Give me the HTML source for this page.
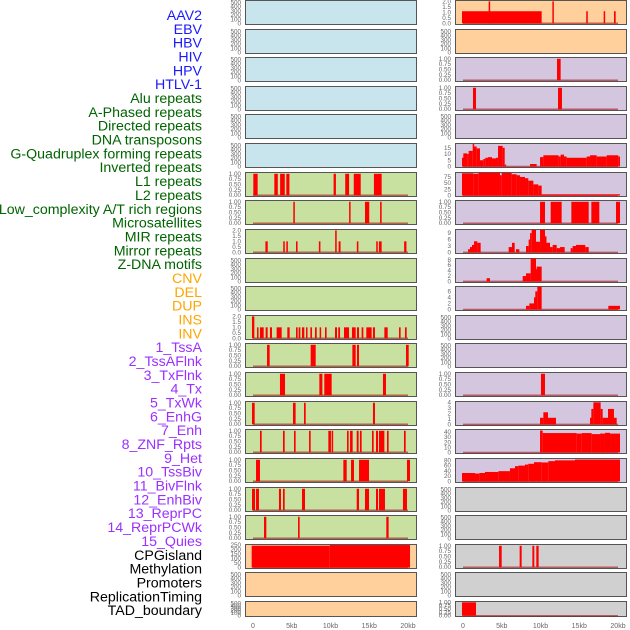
<!DOCTYPE html>
<html><head><meta charset="utf-8"><style>
html,body{margin:0;padding:0;background:#fff;width:630px;height:630px;overflow:hidden}
svg text{font-family:"Liberation Sans",sans-serif}
</style></head><body>
<svg id="chart" width="630" height="630" viewBox="0 0 630 630" xmlns="http://www.w3.org/2000/svg"></svg>
<script>
// ---- track names ----
const labelNames = ["AAV2","EBV","HBV","HIV","HPV","HTLV-1","Alu repeats","A-Phased repeats","Directed repeats","DNA transposons","G-Quadruplex forming repeats","Inverted repeats","L1 repeats","L2 repeats","Low_complexity A/T rich regions","Microsatellites","MIR repeats","Mirror repeats","Z-DNA motifs","CNV","DEL","DUP","INS","INV","1_TssA","2_TssAFlnk","3_TxFlnk","4_Tx","5_TxWk","6_EnhG","7_Enh","8_ZNF_Rpts","9_Het","10_TssBiv","11_BivFlnk","12_EnhBiv","13_ReprPC","14_ReprPCWk","15_Quies","CPGisland","Methylation","Promoters","ReplicationTiming","TAD_boundary"];
const labelGroups = ["v","v","v","v","v","v","r","r","r","r","r","r","r","r","r","r","r","r","r","s","s","s","s","s","c","c","c","c","c","c","c","c","c","c","c","c","c","c","c","o","o","o","o","o"];
const xTickLabels = ["0","5kb","10kb","15kb","20kb"];
const xTickValues = [0,5,10,15,20];

// ---- segments [startKb, endKb, value] ----
const segAlu = [[0.04,0.6,1],[2.75,3.2,1],[3.5,4.1,1],[4.3,4.7,1],[10.4,10.7,1],[11.9,12.4,1],[13.0,13.9,1],[15.6,16.6,1]];
const segAPhased = [[5.2,5.4,1],[12.4,12.55,1],[14.45,15.0,1],[16.4,16.6,1]];
const segDirected = [[1.6,1.9,1],[3.9,4.1,1],[4.3,4.5,1],[5.55,5.75,1],[8.5,8.7,1],[10.6,10.8,2],[11.05,11.3,1],[13.4,13.6,1],[15.9,16.1,1],[16.25,16.6,1],[19.5,19.8,1]];
const segInverted = [[-0.13,0.17,2],[0.52,0.69,1],[0.9,1.38,1],[1.63,1.89,1],[2.19,2.45,1],[3.05,3.7,1],[4.43,4.73,1],[5.55,5.76,1],[5.89,6.11,1],[6.32,6.62,1],[6.84,7.01,1],[7.4,7.61,1],[8.0,8.22,1],[8.6,8.77,1],[9.29,9.5,1],[10.58,10.84,1],[11.0,11.23,1],[11.74,12.39,1],[12.77,13.25,1],[13.42,13.68,1],[14.02,14.24,1],[14.62,15.31,1],[15.48,15.74,1],[16.95,17.38,1],[18.84,19.05,1],[19.61,19.83,1]];
const segL1 = [[1.81,2.15,1],[7.44,8.09,1],[12.82,13.25,1],[13.42,13.68,1],[19.74,20.09,1]];
const segL2 = [[3.48,4.13,1],[8.56,8.95,1],[9.2,10.15,1],[16.77,17.16,1]];
const segLowComplexity = [[-0.13,0.22,1],[5.16,5.5,1],[6.58,6.8,1],[15.48,15.74,1]];
const segMicrosat = [[0.9,1.12,1],[3.87,4.09,1],[5.29,5.5,1],[7.23,7.44,1],[9.72,10.06,1],[10.15,10.32,1],[12.13,12.34,1],[12.52,12.86,1],[13.38,13.63,1],[13.8,14.02,1],[15.35,15.57,1],[15.87,16.13,1],[16.26,16.95,1],[17.29,17.5,1],[19.48,19.7,1]];
const segMIR = [[0.39,0.9,1],[11.66,12.09,1],[12.65,13.03,1],[13.68,14.97,1],[19.87,20.26,1]];
const segMirror = [[-0.13,0.26,1],[0.39,0.77,1],[3.35,3.61,1],[3.87,4.09,1],[6.32,6.71,1],[13.38,13.68,1],[14.45,14.97,1],[15.87,16.13,1],[16.26,17.03,1],[19.35,19.87,1]];
const segZDNA = [[1.42,1.72,1],[5.81,6.02,1],[17.2,17.5,1]];
const segCNV = [[-0.17,9.9,245],[9.9,20.26,252]];
const segINS = [[-0.13,10.15,1.1],[3.31,3.48,2],[11.53,11.7,2],[15.9,16.1,1.1],[18.15,18.3,1.1],[19.48,19.7,1.1]];
const segTssA = [[12.13,12.6,1]];
const segTssAFlnk = [[1.29,1.68,1],[12.26,12.77,1]];
const segTx = [[-0.13,0.04,7],[0.04,0.56,10.5],[0.56,0.73,10],[0.73,1.25,12.5],[1.25,1.42,18],[1.42,1.76,16],[1.76,2.19,14.5],[2.19,2.62,5],[2.62,2.88,6],[2.88,3.23,7],[3.23,3.74,7.5],[3.74,4.26,6.5],[4.26,4.52,7],[4.52,5.12,16.5],[5.12,5.38,15],[5.38,5.55,1.5],[8.65,9.5,2],[9.94,10.37,7.5],[10.37,12.34,9],[12.34,12.6,8],[12.6,13.03,9.5],[13.03,13.38,8],[13.38,15.96,7],[15.96,16.39,8],[16.39,17.25,9],[17.25,18.54,8],[18.54,20.04,9],[20.04,20.26,8]];
const segTxWk = [[-0.13,1.33,90],[1.33,1.98,88],[1.98,4.77,92],[4.77,4.99,82],[4.99,6.28,91],[6.28,6.92,86],[6.92,7.35,82],[7.35,8.0,75],[8.0,8.43,70],[8.43,9.08,60],[9.08,9.72,45],[9.72,10.15,40],[10.15,20.26,5]];
const segEnhG = [[9.94,10.58,1],[11.31,12.73,1],[13.98,16.22,1],[16.56,17.59,1],[19.74,20.26,1]];
const segEnh = [[0.65,0.9,1.5],[0.9,1.16,2.5],[1.16,1.42,3.5],[1.42,1.85,5.2],[1.85,2.28,4.5],[5.89,6.32,2.5],[6.32,6.67,4.5],[6.84,7.27,1.5],[8.13,8.47,3],[8.47,8.65,6],[8.65,8.86,9],[8.86,9.42,10.5],[9.42,9.94,5],[9.94,10.58,10.5],[10.58,10.71,7.5],[10.71,11.23,4.5],[11.23,11.57,2.5],[11.57,12.09,3.5],[12.09,12.52,2],[12.52,13.12,2.5],[13.89,14.15,2],[14.15,14.58,3],[14.58,15.78,3.5],[15.78,16.22,2.5]];
const segZNF = [[3.05,3.48,1.2],[7.7,8.13,2],[8.13,8.73,3],[8.73,9.42,8.5],[9.42,9.5,4.5],[9.5,10.15,5.5]];
const segHet = [[8.13,8.56,1.2],[8.56,9.16,2],[9.16,9.33,4],[9.33,9.59,6],[9.59,10.15,7.5],[18.75,20.26,1.2]];
const segEnhBiv = [[10.06,10.58,1]];
const segReprPC = [[9.94,10.37,1.2],[10.37,10.97,2.2],[10.97,12.0,1.2],[16.39,16.56,1.2],[16.56,16.82,2.8],[16.82,17.76,4],[17.76,18.02,2.8],[18.02,18.71,1.2],[18.71,19.48,2.8],[19.48,19.83,1.2]];
const segReprPCWk = [[9.94,10.28,43],[10.28,14.67,38],[14.67,15.31,37],[15.31,16.6,38],[16.6,17.68,36],[17.68,18.32,37],[18.32,18.97,38.5],[18.97,20.26,37]];
const segQuies = [[-0.13,1.55,32],[1.55,2.11,30],[2.11,2.84,32],[2.84,4.56,36],[4.56,6.06,39],[6.06,6.71,50],[6.71,7.14,58],[7.14,8.0,60],[8.0,8.43,64],[8.43,9.16,67],[9.16,10.15,73],[10.15,11.01,72],[11.01,11.87,77],[11.87,14.45,80],[14.45,20.26,83]];
const segPromoters = [[4.65,4.99,1],[7.31,7.57,1],[8.95,9.2,1],[9.46,9.76,1]];
const segTAD = [[-0.13,1.68,1]];

// ---- tick label sets ----
const ticksEmpty = ["0","100","200","300","400","500"];
const ticksUnit = ["0.00","0.25","0.50","0.75","1.00"];
const ticksUnitVals = [0,0.25,0.5,0.75,1];
const ticksTwo = ["0.0","0.5","1.0","1.5","2.0"];
const ticksTwoVals = [0,0.5,1,1.5,2];
const ticksCNV = [0,50,100,150,200,250];
const ticksTx = [0,5,10,15];
const ticksTxWk = [0,25,50,75];
const ticksEnh = [0,3,6,9];
const ticksZNF = [0,2,4,6,8];
const ticksHet = [0,2,4,6];
const ticksReprPC = [0,1,2,3,4];
const ticksReprPCWk = [0,10,20,30,40];
const ticksQuies = [0,20,40,60,80];

const BG = {v:"#c8e4ec", r:"#c8e0a0", s:"#ffd09c", c:"#d5c6e0", o:"#d0d0d0"};
const LC = {v:"#1a1aff", r:"#006400", s:"#ffa500", c:"#9b30ff", o:"#000000"};

function U(s){return {seg:s,lo:-0.06,hi:1.06,tv:ticksUnitVals,tl:ticksUnit};}
function T(s){return {seg:s,lo:-0.11,hi:2.08,tv:ticksTwoVals,tl:ticksTwo};}
function N(v){return {seg:v.seg,lo:v.lo,hi:v.hi,tv:v.tv,tl:v.tv.map(String)};}
const E = null;
const leftPanels = [E,E,E,E,E,E,U(segAlu),U(segAPhased),T(segDirected),E,E,T(segInverted),U(segL1),U(segL2),U(segLowComplexity),U(segMicrosat),U(segMIR),U(segMirror),U(segZDNA),
  N({seg:segCNV,lo:-10,hi:258,tv:ticksCNV}),E,E];
const rightPanels = [T(segINS),E,U(segTssA),U(segTssAFlnk),E,
  N({seg:segTx,lo:-0.8,hi:18.4,tv:ticksTx}),N({seg:segTxWk,lo:-4,hi:93,tv:ticksTxWk}),U(segEnhG),
  N({seg:segEnh,lo:-0.5,hi:10.7,tv:ticksEnh}),N({seg:segZNF,lo:-0.4,hi:8.5,tv:ticksZNF}),N({seg:segHet,lo:-0.35,hi:7.6,tv:ticksHet}),
  E,E,U(segEnhBiv),N({seg:segReprPC,lo:-0.2,hi:4.15,tv:ticksReprPC}),N({seg:segReprPCWk,lo:-2,hi:45,tv:ticksReprPCWk}),N({seg:segQuies,lo:-4,hi:87,tv:ticksQuies}),
  E,E,U(segPromoters),E,U(segTAD)];
const leftBg = ["v","v","v","v","v","v","r","r","r","r","r","r","r","r","r","r","r","r","r","s","s","s"];
const rightBg = ["s","s","c","c","c","c","c","c","c","c","c","c","c","c","c","c","c","o","o","o","o","o"];

const NS="http://www.w3.org/2000/svg";
const svg=document.getElementById("chart");
function mk(t,a,p){const e=document.createElementNS(NS,t);for(const k in a)e.setAttribute(k,a[k]);(p||svg).appendChild(e);return e;}

const COLS=[{x:245,w:171,x0:253},{x:455,w:171,x0:463}];
const KB=7.75, PITCH=28.62;
function xScale(col,kb){return COLS[col].x0+kb*KB;}

labelNames.forEach((n,i)=>{
  const t=mk("text",{x:202,y:15+i*13.84+5,"text-anchor":"end","font-size":"14.2",fill:LC[labelGroups[i]]});
  t.textContent=n;
  
  
});

function drawPanel(col,row,spec,bgKey){
  const top=Math.round(row*PITCH)+0.5;
  const h=(row===21)?15:24;
  const c=COLS[col];
  const g=mk("g",{});
  
  
  mk("rect",{x:c.x+0.5,y:top,width:c.w,height:h,fill:BG[bgKey],stroke:"#555","stroke-width":"1"},g);
  const tickX=c.x-4;
  if(!spec){
    ticksEmpty.forEach((l,k)=>{
      const y=top+h-1-(k/5)*(h-3)+2;
      const t=mk("text",{x:tickX,y:y,"text-anchor":"end","font-size":"6.3",fill:"#666"},g);
      t.textContent=l;
      
      
    });
    return;
  }
  const Y=v=>top+h-((v-spec.lo)/(spec.hi-spec.lo))*h;
  spec.tv.forEach((v,k)=>{
    const t=mk("text",{x:tickX,y:Y(v)+2,"text-anchor":"end","font-size":"6.3",fill:"#666"},g);
    t.textContent=spec.tl[k];
    
    
  });
  const base=mk("line",{x1:xScale(col,0),x2:xScale(col,20),y1:Y(0),y2:Y(0),stroke:"rgba(160,0,0,0.55)","stroke-width":"1.5"},g);
  
  
  spec.seg.forEach(s=>{
    const x1=xScale(col,s[0]),x2=xScale(col,s[1]);
    const y=Y(s[2]);
    const r=mk("rect",{x:x1,y:y,width:Math.max(1.5,x2-x1),height:Math.max(0,Y(0)-y),fill:"#ff0000"},g);
    
    
  });
}
leftPanels.forEach((s,i)=>drawPanel(0,i,s,leftBg[i]));
rightPanels.forEach((s,i)=>drawPanel(1,i,s,rightBg[i]));

[0,1].forEach(col=>{
  xTickValues.forEach((v,k)=>{
    const t=mk("text",{x:xScale(col,v),y:628,"text-anchor":"middle","font-size":"7",fill:"#666"});
    t.textContent=xTickLabels[k];
    
    
  });
});
</script>
</body></html>
